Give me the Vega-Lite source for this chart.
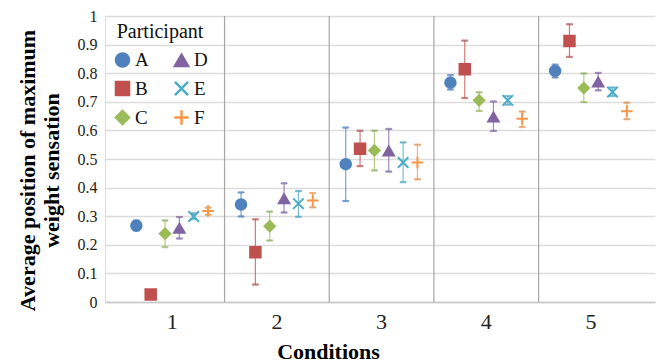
{
  "$schema": "https://vega.github.io/schema/vega-lite/v6.json",
  "width": 550,
  "height": 286,
  "autosize": {"type": "none"},
  "padding": {"left": 105, "top": 16, "right": 3, "bottom": 60},
  "background": "white",
  "config": {
    "font": "Liberation Serif",
    "view": {"stroke": null},
    "axis": {"labelFont": "Liberation Serif", "titleFont": "Liberation Serif"},
    "legend": {"labelFont": "Liberation Serif", "titleFont": "Liberation Serif", "symbolOpacity": 1}
  },
  "data": {
    "values": [
      {"Condition": "1", "Participant": "A", "mean": 0.267, "lo": 0.25, "hi": 0.285},
      {"Condition": "1", "Participant": "B", "mean": 0.026, "lo": 0.015, "hi": 0.035},
      {"Condition": "1", "Participant": "C", "mean": 0.239, "lo": 0.192, "hi": 0.285},
      {"Condition": "1", "Participant": "D", "mean": 0.258, "lo": 0.222, "hi": 0.297},
      {"Condition": "1", "Participant": "E", "mean": 0.299, "lo": 0.29, "hi": 0.31},
      {"Condition": "1", "Participant": "F", "mean": 0.318, "lo": 0.305, "hi": 0.33},
      {"Condition": "2", "Participant": "A", "mean": 0.341, "lo": 0.299, "hi": 0.383},
      {"Condition": "2", "Participant": "B", "mean": 0.174, "lo": 0.061, "hi": 0.289},
      {"Condition": "2", "Participant": "C", "mean": 0.265, "lo": 0.215, "hi": 0.316},
      {"Condition": "2", "Participant": "D", "mean": 0.361, "lo": 0.313, "hi": 0.415},
      {"Condition": "2", "Participant": "E", "mean": 0.344, "lo": 0.298, "hi": 0.388},
      {"Condition": "2", "Participant": "F", "mean": 0.355, "lo": 0.331, "hi": 0.381},
      {"Condition": "3", "Participant": "A", "mean": 0.482, "lo": 0.353, "hi": 0.61},
      {"Condition": "3", "Participant": "B", "mean": 0.536, "lo": 0.475, "hi": 0.599},
      {"Condition": "3", "Participant": "C", "mean": 0.53, "lo": 0.46, "hi": 0.599},
      {"Condition": "3", "Participant": "D", "mean": 0.528, "lo": 0.456, "hi": 0.605},
      {"Condition": "3", "Participant": "E", "mean": 0.488, "lo": 0.419, "hi": 0.558},
      {"Condition": "3", "Participant": "F", "mean": 0.488, "lo": 0.429, "hi": 0.55},
      {"Condition": "4", "Participant": "A", "mean": 0.767, "lo": 0.743, "hi": 0.793},
      {"Condition": "4", "Participant": "B", "mean": 0.814, "lo": 0.713, "hi": 0.914},
      {"Condition": "4", "Participant": "C", "mean": 0.705, "lo": 0.668, "hi": 0.733},
      {"Condition": "4", "Participant": "D", "mean": 0.647, "lo": 0.598, "hi": 0.701},
      {"Condition": "4", "Participant": "E", "mean": 0.705, "lo": 0.69, "hi": 0.72},
      {"Condition": "4", "Participant": "F", "mean": 0.641, "lo": 0.612, "hi": 0.666},
      {"Condition": "5", "Participant": "A", "mean": 0.808, "lo": 0.785, "hi": 0.83},
      {"Condition": "5", "Participant": "B", "mean": 0.913, "lo": 0.857, "hi": 0.971},
      {"Condition": "5", "Participant": "C", "mean": 0.748, "lo": 0.699, "hi": 0.799},
      {"Condition": "5", "Participant": "D", "mean": 0.769, "lo": 0.74, "hi": 0.801},
      {"Condition": "5", "Participant": "E", "mean": 0.734, "lo": 0.72, "hi": 0.75},
      {"Condition": "5", "Participant": "F", "mean": 0.667, "lo": 0.639, "hi": 0.697}
    ]
  },
  "encoding": {
    "y": {
      "type": "quantitative",
      "scale": {"domain": [0, 1], "nice": false},
      "axis": {
        "values": [0, 0.1, 0.2, 0.3, 0.4, 0.5, 0.6, 0.7, 0.8, 0.9, 1],
        "labelExpr": "format(datum.value, '~g')",
        "labelOverlap": false,
        "title": ["Average position of maximum", "weight sensation"],
        "titleFont": "Liberation Serif",
        "titleFontSize": 22,
        "titleFontWeight": "bold",
        "titleColor": "black",
        "titleLineHeight": 24,
        "titleY": 154,
        "titleX": -71,
        "titleAlign": "center",
        "titleBaseline": "alphabetic",
        "labelFont": "Liberation Serif",
        "labelFontSize": 16,
        "labelColor": "#222222",
        "labelPadding": 8,
        "tickSize": 0,
        "domainColor": "#dcdcdc",
        "gridColor": "#dcdcdc",
        "gridWidth": 1.3
      }
    }
  },
  "layer": [
    {
      "mark": {"type": "rule", "strokeWidth": 1.2, "opacity": 0.75},
      "encoding": {
        "x": {
          "field": "Condition",
          "type": "nominal",
          "scale": {"type": "band", "paddingInner": 0, "paddingOuter": 0.1266, "align": 0.56},
          "axis": {
            "title": "Conditions",
            "titleFont": "Liberation Serif",
            "titleFontSize": 22,
            "titleFontWeight": "bold",
            "titleColor": "black",
            "titleX": 223,
            "titleY": 56,
            "titleAlign": "center",
            "titleBaseline": "alphabetic",
            "labelAngle": 0,
            "labelFont": "Liberation Serif",
            "labelFontSize": 22,
            "labelColor": "#222222",
            "labelPadding": 9,
            "ticks": false,
            "domainColor": "#c8c8c8",
            "domainWidth": 1.5,
            "grid": false
          }
        },
        "xOffset": {
          "field": "Participant",
          "type": "nominal",
          "scale": {"domain": ["A", "B", "C", "D", "E", "F"], "paddingInner": 0, "paddingOuter": 0.65}
        },
        "y": {"field": "lo"},
        "y2": {"field": "hi"},
        "stroke": {"field": "Participant", "type": "nominal"}
      }
    },
    {
      "mark": {"type": "tick", "size": 6, "thickness": 1.2, "opacity": 0.75},
      "encoding": {
        "x": {"field": "Condition", "type": "nominal"},
        "xOffset": {"field": "Participant", "type": "nominal"},
        "y": {"field": "lo"},
        "stroke": {"field": "Participant", "type": "nominal"}
      }
    },
    {
      "mark": {"type": "tick", "size": 6, "thickness": 1.2, "opacity": 0.75},
      "encoding": {
        "x": {"field": "Condition", "type": "nominal"},
        "xOffset": {"field": "Participant", "type": "nominal"},
        "y": {"field": "hi"},
        "stroke": {"field": "Participant", "type": "nominal"}
      }
    },
    {
      "mark": {"type": "point", "filled": true, "size": 110, "strokeWidth": 2, "opacity": 1},
      "encoding": {
        "x": {"field": "Condition", "type": "nominal"},
        "xOffset": {"field": "Participant", "type": "nominal"},
        "y": {"field": "mean"},
        "fill": {
          "field": "Participant",
          "type": "nominal",
          "scale": {
            "domain": ["A", "B", "C", "D", "E", "F"],
            "range": ["#4F81BD", "#C0504D", "#9BBB59", "#8064A2", "#4BACC6", "#F79646"]
          },
          "legend": {
            "title": "Participant",
            "orient": "none",
            "legendX": 8,
            "legendY": 6,
            "columns": 2,
            "columnPadding": 20,
            "rowPadding": 4,
            "titleFont": "Liberation Serif",
            "titleFontSize": 20,
            "titleFontWeight": "normal",
            "titleColor": "#111111",
            "titleAnchor": "middle",
            "titlePadding": 8,
            "labelFont": "Liberation Serif",
            "labelFontSize": 19,
            "labelColor": "#111111",
            "labelOffset": 3,
            "symbolSize": 170,
            "symbolStrokeWidth": 2.5,
            "symbolOpacity": 1
          }
        },
        "stroke": {
          "field": "Participant",
          "type": "nominal",
          "scale": {
            "domain": ["A", "B", "C", "D", "E", "F"],
            "range": ["#4F81BD", "#C0504D", "#9BBB59", "#8064A2", "#4BACC6", "#F79646"]
          },
          "legend": {
            "title": "Participant",
            "orient": "none",
            "legendX": 8,
            "legendY": 6,
            "columns": 2,
            "columnPadding": 20,
            "rowPadding": 4,
            "titleFont": "Liberation Serif",
            "titleFontSize": 20,
            "titleFontWeight": "normal",
            "titleColor": "#111111",
            "titleAnchor": "middle",
            "titlePadding": 8,
            "labelFont": "Liberation Serif",
            "labelFontSize": 19,
            "labelColor": "#111111",
            "labelOffset": 3,
            "symbolSize": 170,
            "symbolStrokeWidth": 2.5,
            "symbolOpacity": 1
          }
        },
        "shape": {
          "field": "Participant",
          "type": "nominal",
          "scale": {
            "domain": ["A", "B", "C", "D", "E", "F"],
            "range": ["circle", "square", "diamond", "triangle-up", "M-1,-1L1,1M-1,1L1,-1", "M-1.1,0L1.1,0M0,-1.1L0,1.1"]
          },
          "legend": {
            "title": "Participant",
            "orient": "none",
            "legendX": 8,
            "legendY": 6,
            "columns": 2,
            "columnPadding": 20,
            "rowPadding": 4,
            "titleFont": "Liberation Serif",
            "titleFontSize": 20,
            "titleFontWeight": "normal",
            "titleColor": "#111111",
            "titleAnchor": "middle",
            "titlePadding": 8,
            "labelFont": "Liberation Serif",
            "labelFontSize": 19,
            "labelColor": "#111111",
            "labelOffset": 3,
            "symbolSize": 170,
            "symbolStrokeWidth": 2.5,
            "symbolOpacity": 1
          }
        }
      }
    },
    {
      "data": {"values": [{"Condition": "2"}, {"Condition": "3"}, {"Condition": "4"}, {"Condition": "5"}]},
      "mark": {"type": "rule", "color": "#a6a6a6", "strokeWidth": 1.2},
      "encoding": {
        "x": {"field": "Condition", "type": "nominal", "bandPosition": 0},
        "y": null
      }
    }
  ]
}
